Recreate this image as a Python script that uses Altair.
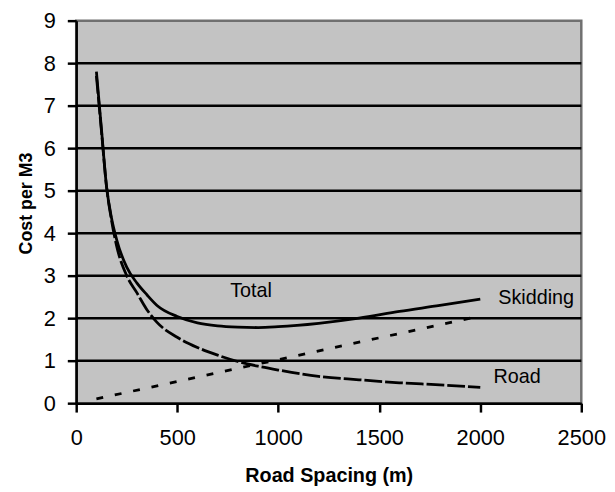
import altair as alt
import pandas as pd

# ---- data ----
spacing = [100, 125, 150, 175, 200, 250, 300, 350, 400, 500, 600, 700, 800, 900,
           1000, 1200, 1400, 1600, 1800, 2000]
total_cost = [7.8, 6.45, 5.1, 4.35, 3.85, 3.2, 2.83, 2.55, 2.3, 2.04, 1.89, 1.82, 1.79, 1.78,
              1.8, 1.88, 2.0, 2.16, 2.3, 2.45]
road_cost = [7.7, 6.4, 5.1, 4.3, 3.7, 3.0, 2.6, 2.2, 1.9, 1.55, 1.31, 1.13, 0.98, 0.87,
             0.78, 0.63, 0.55, 0.48, 0.43, 0.37]
skid_spacing = [100, 2000]
skid_cost = [0.1, 2.05]

grid_levels = [1, 2, 3, 4, 5, 6, 7, 8]
x_ticks = [0, 500, 1000, 1500, 2000, 2500]
y_ticks = [0, 1, 2, 3, 4, 5, 6, 7, 8, 9]

label_text = ["Total", "Skidding", "Road"]
label_x = [762, 2089, 2065]
label_y = [2.49, 2.33, 0.48]

FONT = "Liberation Sans"

total_df = pd.DataFrame({"x": spacing, "y": total_cost})
road_df = pd.DataFrame({"x": spacing, "y": road_cost})
skid_df = pd.DataFrame({"x": skid_spacing, "y": skid_cost})
grid_df = pd.DataFrame({"y": grid_levels})
lab_df = pd.DataFrame({"x": label_x, "y": label_y, "t": label_text})

xscale = alt.Scale(domain=[0, 2500], nice=False, zero=False)
yscale = alt.Scale(domain=[0, 9], nice=False, zero=False)

x_axis = alt.Axis(
    values=x_ticks, format="d", grid=False, domainColor="black", domainWidth=2.5,
    tickColor="black", tickWidth=2.5, tickSize=9, labelFontSize=22,
    labelPadding=16, labelColor="black", labelFont=FONT, labelFlush=False,
    title="Road Spacing (m)", titleFont=FONT, titleFontSize=20,
    titleFontWeight="bold", titleColor="black", titleY=79,
    titleBaseline="alphabetic",
)
y_axis = alt.Axis(
    values=y_ticks, format="d", grid=False, domainColor="black", domainWidth=2.5,
    tickColor="black", tickWidth=2.5, tickSize=9, labelFontSize=22,
    labelPadding=12, labelColor="black", labelFont=FONT, labelFlush=False,
    title="Cost per M3", titleFont=FONT, titleFontSize=18,
    titleFontWeight="bold", titleColor="black", titleAngle=270,
    titleX=-45.5, titleY=184.5, titleAlign="center", titleBaseline="alphabetic",
)

X = alt.X("x:Q", scale=xscale, axis=x_axis)
Y = alt.Y("y:Q", scale=yscale, axis=y_axis)

grid = alt.Chart(grid_df).mark_rule(color="black", strokeWidth=2.5).encode(y=Y)

total = alt.Chart(total_df).mark_line(
    color="black", strokeWidth=2.8, interpolate="monotone"
).encode(x=X, y=Y)

road = alt.Chart(road_df).mark_line(
    color="black", strokeWidth=2.8, strokeDash=[18, 3], interpolate="monotone"
).encode(x=X, y=Y)

skid = alt.Chart(skid_df).mark_line(
    color="black", strokeWidth=2.8, strokeDash=[7, 12]
).encode(x=X, y=Y)

labels = alt.Chart(lab_df).mark_text(
    align="left", baseline="alphabetic", font=FONT, fontSize=20, color="black"
).encode(x=X, y=Y, text="t:N")

chart = alt.layer(grid, skid, road, total, labels).properties(
    width=511, height=387,
    padding={"left": 69, "top": 10, "right": 26, "bottom": 81},
    autosize=alt.AutoSizeParams(type="none"),
    background="white",
).configure_view(
    fill="#c3c3c3", stroke="#707070", strokeWidth=2.5
)

chart.save("out.html", embed_options={"renderer": "svg", "actions": False})
